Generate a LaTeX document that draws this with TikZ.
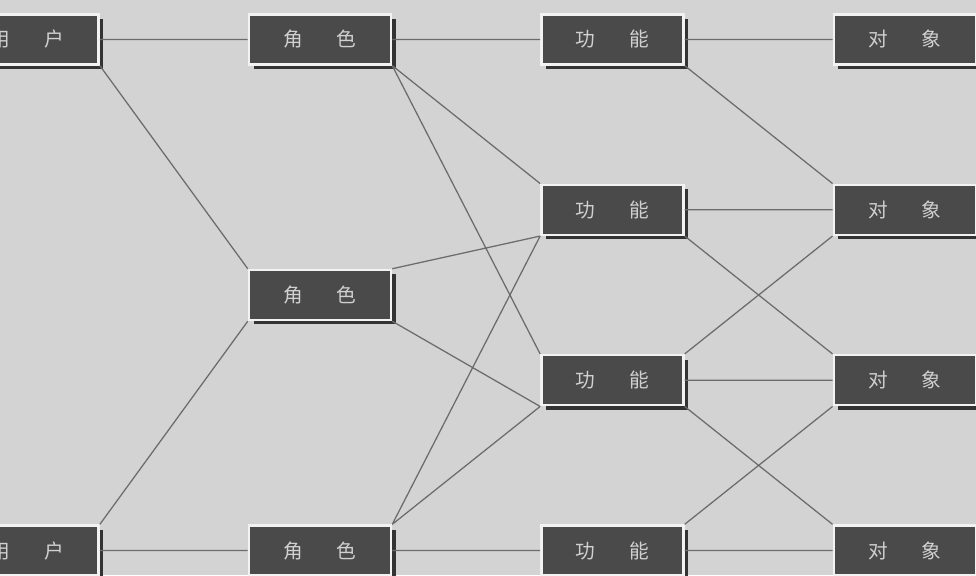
\documentclass[tikz,border=0pt]{standalone}
\usepackage{fontspec}
\newfontfamily\cjk{Noto Sans CJK SC}
\usepackage{tikz}
\usetikzlibrary{positioning,shadows}
\usepackage{xcolor}
\definecolor{paper}{HTML}{D3D3D3}
\definecolor{boxfill}{HTML}{4A4A4A}
\definecolor{boxrim}{HTML}{F2F2F2}
\definecolor{boxtext}{HTML}{D0D0D0}
\definecolor{wire}{HTML}{6C6C6C}
\tikzset{
  unit/.style={rectangle,draw=boxrim,line width=1.8pt,fill=boxfill,
    minimum width=3.55cm,minimum height=1.25cm,inner sep=0pt,
    text=boxtext,font=\cjk\fontsize{14}{16}\selectfont,
    drop shadow={shadow xshift=3.2pt,shadow yshift=-3.2pt,fill=black!80,opacity=1}},
  link/.style={draw=wire,line width=0.9pt},
}
\newcommand{\pair}[2]{#1\hspace{0.85cm}#2}

\begin{document}
\begin{tikzpicture}[node distance=7.31cm]
\useasboundingbox[fill=paper] (0,0) rectangle (24.4,14.375);

% top row
\node[unit] (yh1) at (0.69,13.39) {\pair{用}{户}};
\node[unit,right of=yh1] (js1) {\pair{角}{色}};
\node[unit,right of=js1] (gn1) {\pair{功}{能}};
\node[unit,right of=gn1] (dx1) {\pair{对}{象}};

% middle rows
\node[unit,below of=gn1,node distance=4.26cm] (gn2) {\pair{功}{能}};
\node[unit,below of=dx1,node distance=4.26cm] (dx2) {\pair{对}{象}};
\node[unit,below of=gn2,node distance=4.26cm] (gn3) {\pair{功}{能}};
\node[unit,below of=dx2,node distance=4.26cm] (dx3) {\pair{对}{象}};
\node[unit] (js2) at (8.0,7.0) {\pair{角}{色}};

% bottom row
\node[unit] (yh2) at (0.69,0.61) {\pair{用}{户}};
\node[unit,right of=yh2] (js3) {\pair{角}{色}};
\node[unit,right of=js3] (gn4) {\pair{功}{能}};
\node[unit,right of=gn4] (dx4) {\pair{对}{象}};

\path[link]
(yh1) -- (js1)
(yh1.south east) -- (js2.north west)
(yh2.north east) -- (js2.south west)
(yh2) -- (js3)
(js1) -- (gn1)
(js1.south east) -- (gn2.north west)
(js1.south east) -- (gn3.north west)
(js2.north east) -- (gn2.south west)
(js2.south east) -- (gn3.south west)
(js3.north east) -- (gn2.south west)
(js3.north east) -- (gn3.south west)
(js3) -- (gn4)
(gn1) -- (dx1)
(gn1.south east) -- (dx2.north west)
(gn2) -- (dx2)
(gn2.south east) -- (dx3.north west)
(gn3.north east) -- (dx2.south west)
(gn3) -- (dx3)
(gn3.south east) -- (dx4.north west)
(gn4.north east) -- (dx3.south west)
(gn4) -- (dx4);

\end{tikzpicture}
\end{document}
